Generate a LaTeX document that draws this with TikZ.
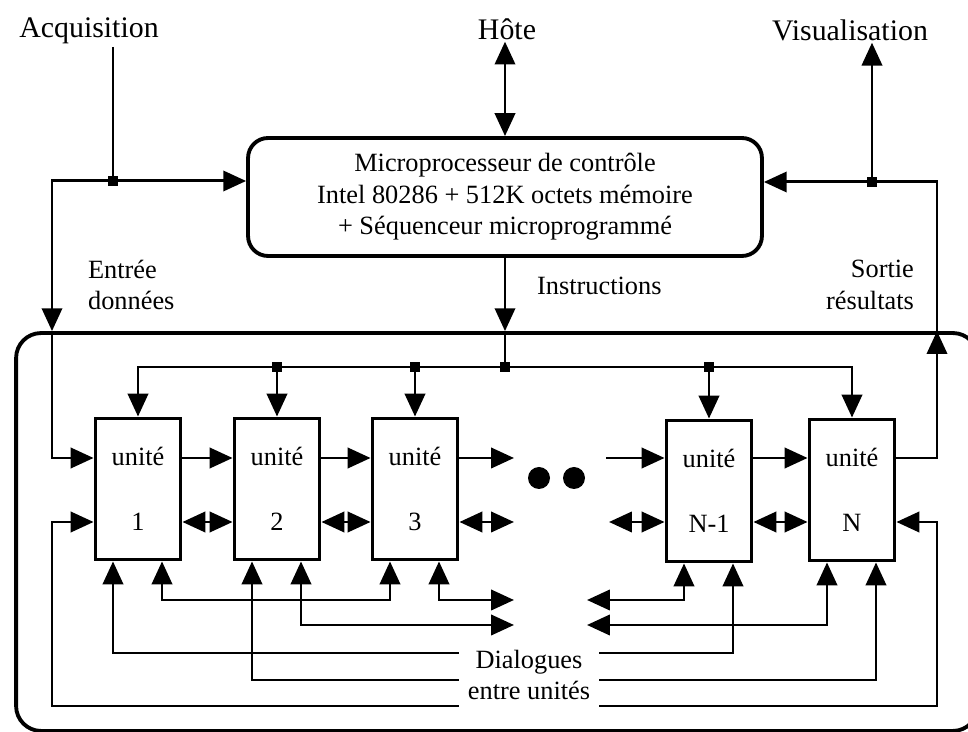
\documentclass[tikz,border=0pt]{standalone}
\usepackage{fontspec}
\setmainfont{Liberation Serif}
\usetikzlibrary{arrows.meta,calc}

\tikzset{
  wire/.style={line width=1.7pt},
  fwd/.style={-{Triangle[length=13pt,width=11.5pt]}},
  both/.style={{Triangle[length=13pt,width=11.5pt]}-{Triangle[length=13pt,width=11.5pt]}},
  unitbox/.style={draw, line width=2.2pt, minimum width=1.7cm, minimum height=2.82cm,
    align=center, font=\fontsize{15}{18}\selectfont},
  joint/.style={fill, inner sep=0pt, minimum size=6pt},
  lbl/.style={font=\fontsize{15}{18}\selectfont, inner sep=1pt},
  toplbl/.style={font=\fontsize{17}{20}\selectfont, inner sep=1pt}
}

\begin{document}
\begin{tikzpicture}[x=0.02cm, y=-0.02cm]
  \useasboundingbox (0,0) rectangle (968,732);

  % outside world
  \node[toplbl] (acq) at (89,31) {Acquisition};
  \node[toplbl] (hote) at (507,29) {Hôte};
  \node[toplbl] (visu) at (850,30) {Visualisation};

  \node[draw, line width=2.2pt, rounded corners=0.4cm, minimum width=10.28cm,
    minimum height=2.36cm, align=center, lbl] (proc) at (505,197)
    {Microprocesseur de contrôle\\Intel 80286 + 512K octets mémoire\\+ Séquenceur microprogrammé};

  \node[draw, line width=2.2pt, rounded corners=0.5cm, minimum width=19.24cm,
    minimum height=7.96cm] (board) at (497,532) {};

  \node[lbl, align=left, anchor=west] (entree) at (86,285) {Entrée\\données};
  \node[lbl, anchor=west] (instr) at (535,286) {Instructions};
  \node[lbl, align=right, anchor=east] (sortie) at (916,285) {Sortie\\résultats};

  % the units
  \node[unitbox] (u1) at (138,489) {unité\\[19pt]1};
  \node[unitbox] (u2) at (277,489) {unité\\[19pt]2};
  \node[unitbox] (u3) at (415,489) {unité\\[19pt]3};
  \node[unitbox] (un1) at (709,491) {unité\\[19pt]N-1};
  \node[unitbox] (un) at (852,490) {unité\\[19pt]N};

  \node[circle, fill, inner sep=0pt, minimum size=0.44cm] (dotA) at (539,478) {};
  \node[circle, fill, inner sep=0pt, minimum size=0.44cm] (dotB) at (574,478) {};

  \node[lbl, align=center, inner xsep=5pt] (dial) at (529,675) {Dialogues\\entre unités};

  % levels and junctions
  \coordinate (rowA) at (0,458);
  \coordinate (rowB) at (0,522);
  \coordinate (rowC) at (0,600);
  \coordinate (rowD) at (0,625);
  \coordinate (rowE) at (0,653);
  \coordinate (rowF) at (0,680);
  \coordinate (rowG) at (0,706);
  \coordinate (acqend) at (113,47);
  \coordinate (jA) at (113,181);
  \coordinate (jL) at (52,181);
  \coordinate (jR) at (872,182);
  \coordinate (jE) at (937,182);
  \coordinate (jI) at (505,367);
  \coordinate (gapA) at (514,458);
  \coordinate (gapB) at (606,458);
  \coordinate (gapC) at (514,522);
  \coordinate (gapD) at (609,522);
  \coordinate (gapE) at (514,600);
  \coordinate (gapF) at (514,625);
  \coordinate (gapG) at (587,600);
  \coordinate (gapH) at (587,625);
  \foreach \u in {u1,u2,u3,un1,un} {
    \coordinate (\u-l) at ($(\u.south)+(-25,0)$);
    \coordinate (\u-r) at ($(\u.south)+(24,0)$);
  }

  % acquisition / entree donnees
  \draw[wire] (acqend) -- (jA);
  \draw[wire,fwd] (jA) -- (jA -| proc.west);
  \draw[wire,fwd] (jA) -- (jL) -- (jL |- board.north);
  \draw[wire,fwd] (jL |- board.north) -- (jL |- rowA) -- (u1.west |- rowA);

  % hote
  \draw[wire,both] (proc.north |- hote.south) -- (proc.north);

  % sortie resultats / visualisation
  \draw[wire,fwd] (un.east |- rowA) -- (jE |- rowA) -- (jE |- board.north);
  \draw[wire,fwd] (jE |- board.north) -- (jE) -- (jE -| proc.east);
  \draw[wire,fwd] (jR) -- (jR |- visu.south);

  % instructions bus
  \draw[wire,fwd] (proc.south) -- (proc.south |- board.north);
  \draw[wire] (proc.south |- board.north) -- (jI);
  \draw[wire,fwd] (jI) -- (jI -| u1.north) -- (u1.north);
  \draw[wire,fwd] (jI) -- (jI -| un.north) -- (un.north);
  \foreach \u in {u2,u3,un1}
    \draw[wire,fwd] (jI -| \u.north) -- (\u.north);

  % chain between units
  \draw[wire,fwd] (u1.east |- rowA) -- (u2.west |- rowA);
  \draw[wire,fwd] (u2.east |- rowA) -- (u3.west |- rowA);
  \draw[wire,fwd] (u3.east |- rowA) -- (gapA);
  \draw[wire,fwd] (gapB) -- (un1.west |- rowA);
  \draw[wire,fwd] (un1.east |- rowA) -- (un.west |- rowA);

  \draw[wire,both] (u1.east |- rowB) -- (u2.west |- rowB);
  \draw[wire,both] (u2.east |- rowB) -- (u3.west |- rowB);
  \draw[wire,both] (u3.east |- rowB) -- (gapC);
  \draw[wire,both] (gapD) -- (un1.west |- rowB);
  \draw[wire,both] (un1.east |- rowB) -- (un.west |- rowB);

  % dialogues
  \draw[wire,both] (u1-r) -- (u1-r |- rowC) -- (u3-l |- rowC) -- (u3-l);
  \draw[wire,both] (u3-r) -- (u3-r |- rowC) -- (gapE);
  \draw[wire,both] (u2-r) -- (u2-r |- rowD) -- (gapF);
  \draw[wire,fwd] (dial.west |- rowE) -- (u1-l |- rowE) -- (u1-l);
  \draw[wire,fwd] (dial.west |- rowF) -- (u2-l |- rowF) -- (u2-l);
  \draw[wire,fwd] (dial.west |- rowG) -- (jL |- rowG) -- (jL |- rowB) -- (u1.west |- rowB);
  \draw[wire,both] (un1-l) -- (un1-l |- rowC) -- (gapG);
  \draw[wire,both] (un-l) -- (un-l |- rowD) -- (gapH);
  \draw[wire,fwd] (dial.east |- rowE) -- (un1-r |- rowE) -- (un1-r);
  \draw[wire,fwd] (dial.east |- rowF) -- (un-r |- rowF) -- (un-r);
  \draw[wire,fwd] (dial.east |- rowG) -- (jE |- rowG) -- (jE |- rowB) -- (un.east |- rowB);

  % junction marks
  \node[joint] at (jA) {};
  \node[joint] at (jR) {};
  \node[joint] at (jI) {};
  \foreach \u in {u2,u3,un1}
    \node[joint] at (jI -| \u.north) {};
\end{tikzpicture}
\end{document}
